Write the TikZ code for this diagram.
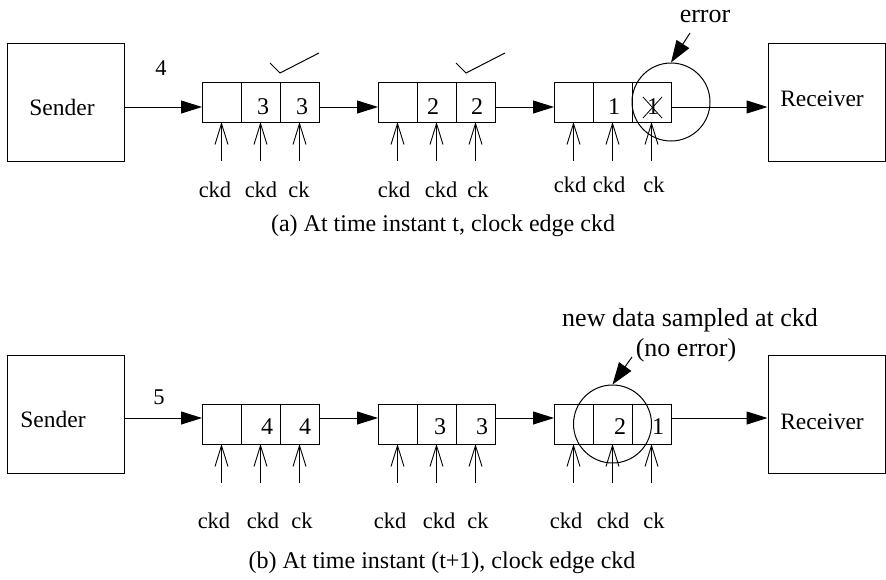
\documentclass[tikz,border=0pt]{standalone}
\usepackage{fontspec}
\setmainfont{Liberation Serif}
\usetikzlibrary{arrows.meta, positioning, calc}

\tikzset{
  endbox/.style={draw, line width=1pt, minimum width=117pt, minimum height=118pt,
    inner sep=0pt},
  boxtext/.style={font=\fontsize{23.5}{28}\selectfont, inner sep=0pt},
  cell/.style={draw, line width=1pt, minimum width=39pt, minimum height=40pt,
    inner sep=0pt, outer sep=0pt},
  digit/.style={font=\fontsize{24}{28}\selectfont, inner sep=0pt},
  lbl/.style={font=\fontsize{22.5}{26}\selectfont, inner sep=0pt},
  note/.style={font=\fontsize{26}{30}\selectfont, inner sep=0pt, align=center},
  caption/.style={font=\fontsize{24}{28}\selectfont, inner sep=0pt},
  ring/.style={draw, circle, line width=1pt, minimum size=78pt, inner sep=0pt},
  dataarr/.style={-{Triangle[length=21pt,width=13pt]}, line width=1pt},
  notearr/.style={-{Triangle[length=22pt,width=15pt]}, line width=1pt},
  clkarr/.style={-{Straight Barb[length=21pt,width=13pt]}, line width=0.9pt}
}

\begin{document}
\begin{tikzpicture}[x=1pt, y=-1pt]
  \useasboundingbox (0,0) rectangle (886,579);

  %% (a) time instant t
  \node[endbox, label={[boxtext, xshift=-3.5pt, yshift=-5pt]center:Sender}]
    (sendA) at (65.5,102) {};
  \node[endbox, label={[boxtext, xshift=-4.5pt, yshift=3pt]center:Receiver}]
    (recvA) at (826.5,102) {};

  \node[cell] (a11) at (221.5,102) {};
  \node[cell, right=0pt of a11] (a12) {};
  \node[cell, right=0pt of a12] (a13) {};
  \node[cell, right=59pt of a13] (a21) {};
  \node[cell, right=0pt of a21] (a22) {};
  \node[cell, right=0pt of a22] (a23) {};
  \node[cell, right=59pt of a23] (a31) {};
  \node[cell, right=0pt of a31] (a32) {};
  \node[cell, right=0pt of a32] (a33) {};

  \foreach \c/\v/\dx in {a12/3/2.5, a13/3/2.5, a22/2/-3.5, a23/2/1.5,
                         a32/1/1.5, a33/1/1.5}
    \node[digit] (n-\c) at ($(\c.center)+(\dx,5)$) {\v};

  \coordinate (rowA) at (0,107);
  \draw[dataarr] (sendA.east |- rowA) -- (a11.west |- rowA);
  \draw[dataarr] (a13.east |- rowA) -- (a21.west |- rowA);
  \draw[dataarr] (a23.east |- rowA) -- (a31.west |- rowA);
  \draw[dataarr] (a33.east |- rowA) -- (recvA.west |- rowA);
  \node[lbl] (inA) at (161,68) {4};

  \foreach \c in {a11,a12,a13,a21,a22,a23,a31,a32,a33}
    \draw[clkarr] ($(\c.south)+(0,39)$) -- (\c.south);

  \foreach \x/\t [count=\i] in {215/ckd, 261/ckd, 299/ck,
                                394/ckd, 441/ckd, 478/ck}
    \node[lbl] (ka\i) at (\x,190) {\t};
  \foreach \x/\t [count=\i] in {570/ckd, 609/ckd, 654/ck}
    \node[lbl] (kc\i) at (\x,185) {\t};

  % ticks over the good samples
  \draw[line width=1pt] ($(a13.north west)+(-10,-19)$) -- ++(10,10) -- ++(39,-20);
  \draw[line width=1pt] ($(a23.north west)+(0,-19)$) -- ++(10,10) -- ++(39,-20);

  % wrong sample
  \draw[line width=0.8pt] ($(n-a33)+(-10,-10)$) -- ++(19,21);
  \draw[line width=0.8pt] ($(n-a33)+(-10,11)$) -- ++(19,-21);
  \node[ring] (errc) at (a33.east) {};
  \node[note] (errlbl) at (705,16) {error};
  \coordinate (errtail) at (690,33);
  \draw[notearr] (errtail) -- (errc.north);

  \node[caption] (capA) at (443,226) {(a) At time instant t, clock edge ckd};

  %% (b) time instant t+1
  \node[endbox, label={[boxtext, xshift=-12.5pt, yshift=-4.5pt]center:Sender}]
    (sendB) at (65.5,414.5) {};
  \node[endbox, label={[boxtext, xshift=-4.5pt, yshift=-7.5pt]center:Receiver}]
    (recvB) at (826.5,414.5) {};

  \node[cell] (b11) at (221.5,424) {};
  \node[cell, right=0pt of b11] (b12) {};
  \node[cell, right=0pt of b12] (b13) {};
  \node[cell, right=59pt of b13] (b21) {};
  \node[cell, right=0pt of b21] (b22) {};
  \node[cell, right=0pt of b22] (b23) {};
  \node[cell, right=59pt of b23] (b31) {};
  \node[cell, right=0pt of b31] (b32) {};
  \node[cell, right=0pt of b32] (b33) {};

  \foreach \c/\v/\dx in {b12/4/6.5, b13/4/5.5, b22/3/3.5, b23/3/6.5,
                         b32/2/7.5, b33/1/6.5}
    \node[digit] (n-\c) at ($(\c.center)+(\dx,3)$) {\v};

  \coordinate (rowB) at (0,418);
  \draw[dataarr] (sendB.east |- rowB) -- (b11.west |- rowB);
  \draw[dataarr] (b13.east |- rowB) -- (b21.west |- rowB);
  \draw[dataarr] (b23.east |- rowB) -- (b31.west |- rowB);
  \draw[dataarr] (b33.east |- rowB) -- (recvB.west |- rowB);
  \node[lbl] (inB) at (159,397) {5};

  \foreach \c in {b11,b12,b13,b21,b22,b23,b31,b32,b33}
    \draw[clkarr] ($(\c.south)+(0,39)$) -- (\c.south);

  \foreach \x/\t [count=\i] in {214/ckd, 263/ckd, 302/ck,
                                390/ckd, 439/ckd, 478/ck,
                                566/ckd, 613/ckd, 654/ck}
    \node[lbl] (kb\i) at (\x,521) {\t};

  \node[ring] (okc) at (b32.center) {};
  \node[note] (newlbl) at (690,335)
    {new data sampled at ckd\\\hspace*{-8pt}(no error)};
  \coordinate (oktail) at (632,357);
  \draw[notearr] (oktail) -- (okc.north);

  \node[caption] (capB) at (442,563) {(b) At time instant (t+1), clock edge ckd};
\end{tikzpicture}
\end{document}
